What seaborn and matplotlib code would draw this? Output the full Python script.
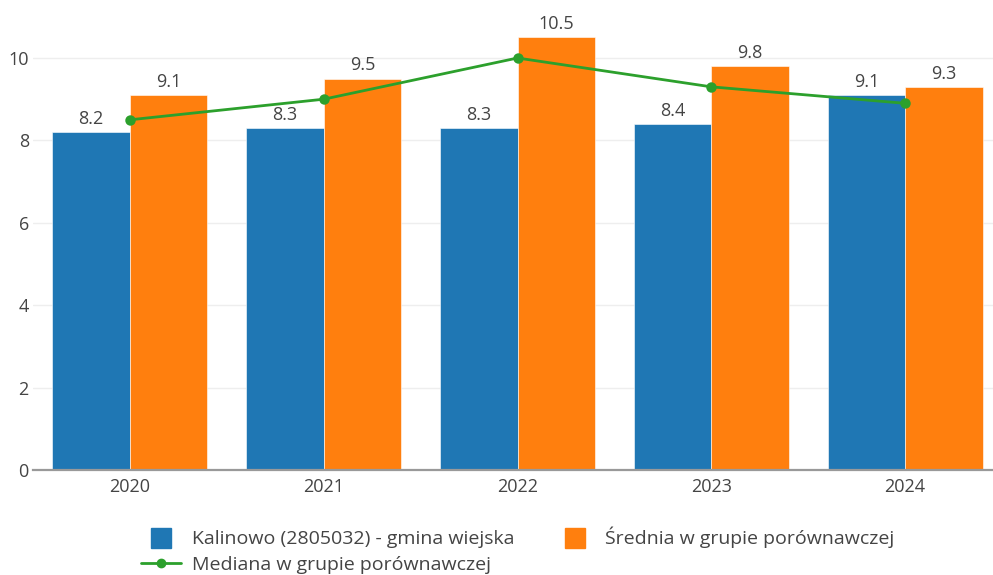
import matplotlib
matplotlib.use("Agg")
import matplotlib.pyplot as plt
from matplotlib.lines import Line2D
import seaborn as sns
import pandas as pd

years = ["2020", "2021", "2022", "2023", "2024"]
kalinowo = [8.2, 8.3, 8.3, 8.4, 9.1]
srednia = [9.1, 9.5, 10.5, 9.8, 9.3]
mediana = [8.5, 9.0, 10.0, 9.3, 8.9]
series_names = ["Kalinowo (2805032) - gmina wiejska", "Średnia w grupie porównawczej",
                "Mediana w grupie porównawczej"]
yticks = [0, 2, 4, 6, 8, 10]

blue, orange, green = "#1f77b4", "#ff7f0e", "#2ca02c"
text_color = "#444444"

sns.set_style("white")
plt.rcParams["font.family"] = ["Open Sans", "DejaVu Sans"]

df = pd.DataFrame({
    "year": years * 2,
    "value": kalinowo + srednia,
    "series": [series_names[0]] * len(years) + [series_names[1]] * len(years),
})

W, H = 993, 575
fig = plt.figure(figsize=(W / 100, H / 100), dpi=100)
x0, x1 = 33, 1002
y0 = 470
ppu = 41.2
ymax = 11.1
ax = fig.add_axes([x0 / W, (H - y0) / H, (x1 - x0) / W, ppu * ymax / H])

sns.barplot(data=df, x="year", y="value", hue="series", order=years,
            hue_order=series_names[:2], palette=[blue, orange], width=0.8,
            saturation=1, edgecolor="white", linewidth=0.4, ax=ax, legend=False,
            zorder=2)
for cont in ax.containers:
    ax.bar_label(cont, fmt="%.1f", padding=3, color=text_color, fontsize=13)

sns.pointplot(x=years, y=mediana, order=years, color=green, ax=ax,
              markers="o", markersize=6, linewidth=2, zorder=4)

ax.set_xlim(-0.5, 4.5)
ax.set_ylim(0, ymax)
ax.set_yticks(yticks)
ax.set_xlabel("")
ax.set_ylabel("")
ax.yaxis.grid(True, color="#eeeeee", linewidth=1, zorder=0)
ax.set_axisbelow(True)
for s in ["top", "right", "left"]:
    ax.spines[s].set_visible(False)
ax.spines["bottom"].set_color("#999999")
ax.spines["bottom"].set_linewidth(1.6)
ax.tick_params(axis="y", length=0, pad=3, labelsize=13, labelcolor=text_color)
ax.tick_params(axis="x", length=0, pad=6, labelsize=13, labelcolor=text_color)

handles = [
    Line2D([], [], marker="s", linestyle="none", markersize=14, color=blue),
    Line2D([], [], marker="o", linestyle="-", markersize=6, linewidth=2, color=green),
    Line2D([], [], marker="s", linestyle="none", markersize=14, color=orange),
]
labels = [series_names[0], series_names[2], series_names[1]]
fig.legend(handles, labels, loc="upper left", bbox_to_anchor=(141 / W, 1 - 527 / H),
           ncol=2, frameon=False, fontsize=14, labelcolor=text_color,
           handlelength=2.05, handletextpad=0.55, columnspacing=2.1,
           labelspacing=0.4, borderaxespad=0, borderpad=0)

fig.savefig("out.png", dpi=100)
